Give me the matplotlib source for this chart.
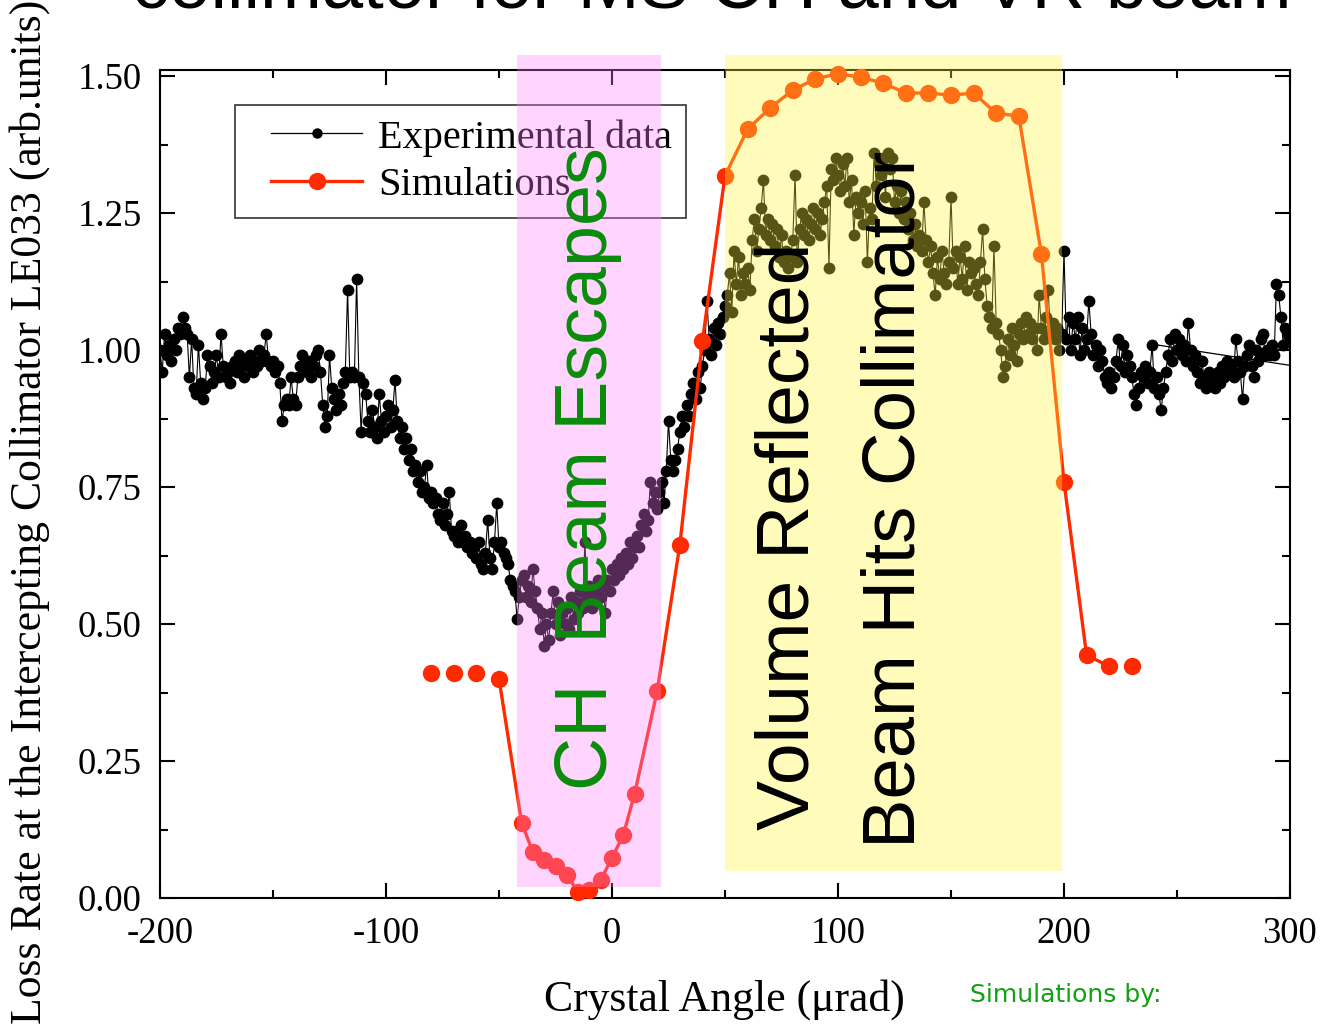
import numpy as np
import matplotlib
matplotlib.use('Agg')
import matplotlib.pyplot as plt
from matplotlib.patches import Rectangle
from matplotlib.lines import Line2D
from matplotlib.legend_handler import HandlerLine2D

plt.rcParams['axes.unicode_minus'] = False

exp_angle = np.arange(-200, 301)
exp_rate = [
    1.00, 0.96, 1.03, 0.99, 1.01, 0.98, 1.02, 1.00, 1.04, 1.03,   # -200
    1.06, 1.04, 1.03, 0.95, 1.02, 0.93, 0.92, 1.01, 0.94, 0.91,   # -190
    0.93, 0.99, 0.97, 0.94, 0.96, 0.99, 0.95, 1.03, 0.97, 0.95,   # -180
    0.96, 0.94, 0.97, 0.98, 0.96, 0.99, 0.97, 0.95, 0.98, 0.97,   # -170
    0.99, 0.96, 0.98, 0.97, 1.00, 0.98, 0.99, 1.03, 0.98, 0.97,   # -160
    0.98, 0.96, 0.97, 0.94, 0.87, 0.90, 0.91, 0.90, 0.95, 0.91,   # -150
    0.90, 0.95, 0.97, 0.99, 0.98, 0.96, 0.98, 0.95, 0.97, 0.99,   # -140
    1.00, 0.96, 0.90, 0.86, 0.88, 0.99, 0.93, 0.91, 0.89, 0.92,   # -130
    0.90, 0.94, 0.96, 1.11, 0.95, 0.96, 0.95, 1.13, 0.95, 0.85,   # -120
    0.94, 0.92, 0.87, 0.85, 0.89, 0.86, 0.84, 0.92, 0.87, 0.85,   # -110
    0.88, 0.90, 0.86, 0.89, 0.945, 0.87, 0.84, 0.86, 0.82, 0.84,  # -100
    0.80, 0.82, 0.78, 0.79, 0.76, 0.78, 0.74, 0.75, 0.79, 0.73,   # -90
    0.74, 0.72, 0.73, 0.70, 0.69, 0.72, 0.68, 0.70, 0.74, 0.67,   # -80
    0.66, 0.67, 0.65, 0.68, 0.65, 0.66, 0.64, 0.65, 0.63, 0.64,   # -70
    0.62, 0.65, 0.61, 0.60, 0.63, 0.69, 0.62, 0.60, 0.65, 0.72,   # -60
    0.64, 0.65, 0.63, 0.62, 0.61, 0.58, 0.57, 0.56, 0.51, 0.55,   # -50
    0.58, 0.59, 0.55, 0.57, 0.54, 0.60, 0.56, 0.53, 0.49, 0.52,   # -40
    0.46, 0.50, 0.47, 0.52, 0.56, 0.50, 0.54, 0.48, 0.52, 0.50,   # -30
    0.53, 0.49, 0.55, 0.51, 0.54, 0.52, 0.56, 0.53, 0.65, 0.55,   # -20
    0.57, 0.53, 0.56, 0.54, 0.58, 0.55, 0.57, 0.52, 0.58, 0.56,   # -10
    0.60, 0.58, 0.61, 0.59, 0.62, 0.60, 0.63, 0.61, 0.65, 0.62,   # 0
    0.64, 0.66, 0.64, 0.68, 0.70, 0.67, 0.69, 0.76, 0.72, 0.74,   # 10
    0.71, 0.74, 0.76, 0.72, 0.78, 0.87, 0.80, 0.78, 0.80, 0.82,   # 20
    0.85, 0.88, 0.86, 0.90, 0.88, 0.92, 0.94, 0.91, 0.96, 0.93,   # 30
    0.97, 1.00, 1.09, 1.02, 0.99, 1.04, 1.01, 1.05, 1.03, 1.06,   # 40
    1.08, 1.10, 1.14, 1.07, 1.18, 1.12, 1.17, 1.10, 1.14, 1.12,   # 50
    1.15, 1.11, 1.20, 1.24, 1.18, 1.22, 1.26, 1.31, 1.21, 1.24,   # 60
    1.20, 1.23, 1.19, 1.22, 1.17, 1.21, 1.16, 1.18, 1.15, 1.17,   # 70
    1.20, 1.32, 1.16, 1.22, 1.25, 1.21, 1.24, 1.20, 1.23, 1.26,   # 80
    1.22, 1.25, 1.21, 1.24, 1.27, 1.30, 1.15, 1.33, 1.31, 1.35,   # 90
    1.32, 1.29, 1.34, 1.30, 1.35, 1.27, 1.31, 1.21, 1.28, 1.25,   # 100
    1.27, 1.23, 1.29, 1.16, 1.26, 1.24, 1.36, 1.30, 1.34, 1.32,   # 110
    1.35, 1.28, 1.36, 1.33, 1.35, 1.27, 1.30, 1.25, 1.29, 1.24,   # 120
    1.27, 1.22, 1.25, 1.20, 1.23, 1.19, 1.21, 1.18, 1.27, 1.20,   # 130
    1.16, 1.19, 1.14, 1.10, 1.17, 1.13, 1.18, 1.14, 1.12, 1.16,   # 140
    1.28, 1.15, 1.18, 1.12, 1.17, 1.13, 1.19, 1.11, 1.16, 1.14,   # 150
    1.15, 1.12, 1.10, 1.16, 1.22, 1.13, 1.08, 1.06, 1.04, 1.19,   # 160
    1.05, 1.03, 1.00, 0.95, 0.97, 1.02, 0.99, 1.04, 1.01, 0.98,   # 170
    1.03, 1.05, 1.02, 1.06, 1.03, 1.05, 1.02, 1.04, 1.00, 1.10,   # 180
    1.04, 1.02, 1.06, 1.11, 1.03, 1.05, 1.02, 1.04, 1.00, 1.03,   # 190
    1.18, 1.02, 1.06, 1.00, 1.05, 1.02, 1.06, 0.99, 1.04, 1.00,   # 200
    1.02, 1.09, 1.03, 0.99, 1.01, 0.97, 1.00, 0.98, 0.95, 0.94,   # 210
    0.96, 0.93, 0.95, 0.98, 1.02, 0.97, 1.01, 0.96, 0.99, 0.97,   # 220
    0.95, 0.92, 0.90, 0.93, 0.96, 0.95, 0.97, 0.94, 0.96, 1.01,   # 230
    0.93, 0.95, 0.92, 0.89, 0.93, 0.96, 0.99, 1.02, 0.98, 1.03,   # 240
    1.00, 1.02, 0.99, 1.01, 0.98, 1.05, 1.00, 0.97, 0.99, 0.96,   # 250
    0.94, 0.98, 0.95, 0.93, 0.96, 0.94, 0.95, 0.93, 0.96, 0.94,   # 260
    0.97, 0.95, 0.98, 0.96, 0.97, 0.95, 1.02, 0.98, 0.96, 0.91,   # 270
    0.97, 0.99, 1.01, 0.97, 0.95, 1.00, 0.98, 1.02, 1.03, 0.99,   # 280
    1.00, 0.99, 1.01, 0.99, 1.12, 1.10, 1.06, 1.01, 1.04, 1.03,   # 290
    1.02,                                                         # 300
]

# straight fit segment drawn over the right-hand data
fit_angle = [240, 300]
fit_rate = [1.01, 0.972]

# --- Simulations ---
sim_angle = np.array([-80, -70, -60, -50, -40, -35, -30, -25, -20, -15, -10, -5, 0, 5, 10,
                      20, 30, 40, 50, 60, 70, 80, 90, 100, 110, 120, 130, 140, 150, 160,
                      170, 180, 190, 200, 210, 220, 230])
sim_rate = np.array([0.41, 0.41, 0.41, 0.40, 0.137, 0.084, 0.069, 0.058, 0.042, 0.011, 0.015, 0.033, 0.073, 0.115, 0.19,
                     0.378, 0.644, 1.016, 1.318, 1.403, 1.442, 1.474, 1.495, 1.504, 1.498, 1.487, 1.469, 1.469, 1.465, 1.469,
                     1.432, 1.427, 1.175, 0.759, 0.443, 0.423, 0.423])
sim_line_range = (-50, 220)

# shaded regions (x range, y range in data units)
ch_band = (-42.0, 21.7, 0.02, 1.538)
vr_band = (50.0, 199.1, 0.049, 1.538)

SERIF = 'Liberation Serif'
SANS = 'Liberation Sans'
SIM_RED = '#ff2a00'

fig = plt.figure(figsize=(13.26, 10.24), dpi=100)
ax = fig.add_axes([160 / 1326, 1 - 898 / 1024, 1130 / 1326, 828 / 1024])

ax.plot(exp_angle, exp_rate, '-', color='black', lw=0.8, marker='o', ms=8.5,
        mfc='black', mec='black', mew=0, zorder=3)
ax.plot(fit_angle, fit_rate, '-', color='black', lw=0.9, zorder=3)

line_mask = (sim_angle >= sim_line_range[0]) & (sim_angle <= sim_line_range[1])
ax.plot(sim_angle[line_mask], sim_rate[line_mask], '-', color=SIM_RED, lw=2.4, zorder=4, clip_on=False)
ax.plot(sim_angle, sim_rate, 'o', color=SIM_RED, ms=12.5, mew=0, zorder=4, clip_on=False)

ax.set_xlim(-200, 300)
ax.set_ylim(0, 1.511)
ax.set_xticks([-200, -100, 0, 100, 200, 300])
ax.set_xticks([-150, -50, 50, 150, 250], minor=True)
ax.set_yticks([0, 0.25, 0.5, 0.75, 1.0, 1.25, 1.5])
ax.set_yticks(np.arange(0.125, 1.5, 0.25), minor=True)
ax.set_yticklabels(['0.00', '0.25', '0.50', '0.75', '1.00', '1.25', '1.50'])

ax.tick_params(which='both', direction='in', top=True, right=True, width=1.5, colors='black')
ax.tick_params(which='major', length=11)
ax.tick_params(which='minor', length=6)
ax.tick_params(axis='y', pad=13, labelsize=26.5)
ax.tick_params(axis='x', pad=13, labelsize=26.5)
for lab in ax.get_xticklabels() + ax.get_yticklabels():
    lab.set_fontfamily(SERIF)
for sp in ax.spines.values():
    sp.set_linewidth(1.5)

handles = [
    Line2D([], [], color='black', lw=0.9, marker='o', ms=7.5, mew=0),
    Line2D([], [], color=SIM_RED, lw=2.4, marker='o', ms=12.5, mew=0),
]
leg = ax.legend(handles, ['Experimental data', 'Simulations'], loc='upper left',
                bbox_to_anchor=((235 - 160) / 1130, (898 - 105) / 828), borderaxespad=0,
                prop={'family': SERIF, 'size': 29}, frameon=True, fancybox=False,
                edgecolor='#333333', framealpha=1, handlelength=2.8, handletextpad=0.4,
                labelspacing=0.25, borderpad=0.35, numpoints=1,
                handler_map={Line2D: HandlerLine2D(xpad=0.55)})
leg.get_frame().set_linewidth(1.2)
leg.set_zorder(5)

for x0, x1, y0, y1, col, a in [(*ch_band, '#ff80ff', 0.33), (*vr_band, '#fff53c', 0.35)]:
    ax.add_patch(Rectangle((x0, y0), x1 - x0, y1 - y0, facecolor=col, edgecolor='none',
                           alpha=a, zorder=6, clip_on=False))

# overlay annotations (slide text)
fig.text(588 / 1326, 1 - 790 / 1024, 'CH  Beam Escapes', rotation=90, ha='center', va='bottom',
         family=SANS, fontsize=53, color='#0a8c0a')
fig.text(789 / 1326, 1 - 830 / 1024, 'Volume Reflected', rotation=90, ha='center', va='bottom',
         family=SANS, fontsize=54, color='black')
fig.text(895 / 1326, 1 - 848 / 1024, 'Beam Hits Collimator', rotation=90, ha='center', va='bottom',
         family=SANS, fontsize=53.5, color='black')

fig.text(712 / 1326, 1 - 8 / 1024, 'collimator for MS CH and VR beam', ha='center', va='baseline',
         family=SANS, fontsize=53.5, color='black')

fig.text(724 / 1326, 1 - 1000 / 1024, 'Crystal Angle (\u03bcrad)', ha='center', va='center',
         family=SERIF, fontsize=31.5)
fig.text(30 / 1326, 1 - 512 / 1024, 'Loss Rate at the Intercepting Collimator LE033 (arb.units)',
         rotation=90, ha='center', va='center', family=SERIF, fontsize=31.5)

fig.text(970 / 1326, 1 - 995 / 1024, 'Simulations by:', ha='left', va='center',
         family='DejaVu Sans', fontsize=18, color='#12a012')

fig.savefig('out.png', dpi=100)
